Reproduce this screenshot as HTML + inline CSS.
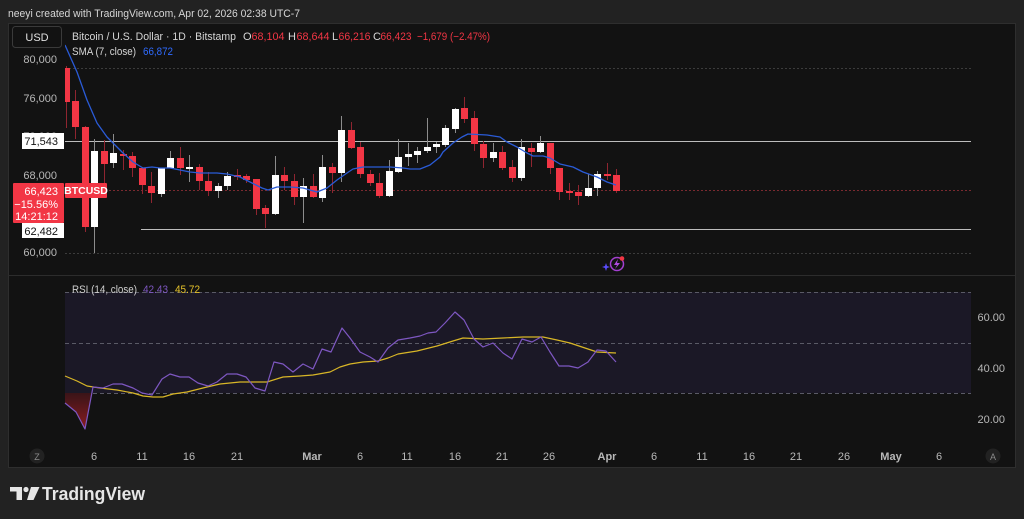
<!DOCTYPE html>
<html><head><meta charset="utf-8"><style>
html,body{margin:0;padding:0;background:#222222;width:1024px;height:519px;overflow:hidden;}
svg{display:block;font-family:"Liberation Sans",Arial,sans-serif;}
</style></head><body>
<svg width="1024" height="519" viewBox="0 0 1024 519" xmlns="http://www.w3.org/2000/svg">
<defs>
<clipPath id="pane"><rect x="65" y="24" width="906" height="251"/></clipPath>
<linearGradient id="rf" x1="0" y1="0" x2="0" y2="1"><stop offset="0" stop-color="#3a1418"/><stop offset="1" stop-color="#8a1c20"/></linearGradient>
</defs>
<rect x="0" y="0" width="1024" height="519" fill="#222222"/>
<text x="8" y="17" font-size="11" fill="#d6d6d6" textLength="292" lengthAdjust="spacingAndGlyphs">neeyi created with TradingView.com, Apr 02, 2026 02:38 UTC-7</text>
<rect x="8.5" y="23.5" width="1007" height="444" fill="#121212" stroke="#2e2e2e"/>
<line x1="8" y1="275.5" x2="1015" y2="275.5" stroke="#2c2c2c"/>

<!-- dotted grid -->
<line x1="65" y1="68.5" x2="971" y2="68.5" stroke="#3c3c3c" stroke-dasharray="2,2"/>
<line x1="65" y1="253.5" x2="971" y2="253.5" stroke="#3c3c3c" stroke-dasharray="2,2"/>
<!-- price lines -->
<line x1="65" y1="141.5" x2="971" y2="141.5" stroke="#bdbdbd"/>
<line x1="141" y1="229.5" x2="971" y2="229.5" stroke="#bdbdbd"/>
<line x1="65" y1="190.5" x2="971" y2="190.5" stroke="#7a2a30" stroke-dasharray="2,2"/>

<!-- candles -->
<g clip-path="url(#pane)" shape-rendering="crispEdges">
<g stroke-width="1">
<path stroke="#8f2530" d="M66.5 66V128M75.5 90V139M85.5 126V232M104.5 140V183M123.5 150V170M132.5 152V177M142.5 168V194M151.5 172V203M180.5 147V175M199.5 164V190M208.5 172V196M237.5 169V180M246.5 174V183M256.5 179V215M265.5 205V228M284.5 167V190M294.5 174V205M313.5 174V198M332.5 163V193M351.5 122V149M360.5 142V178M370.5 170V186M379.5 173V198M464.5 97V123M474.5 111V151M483.5 141V168M502.5 146V170M512.5 160V182M531.5 143V167M550.5 143V174M559.5 168V200M569.5 183V200M578.5 185V205M607.5 163V180M616.5 169V193"/>
<path stroke="#8c8c8c" d="M94.5 139V253M113.5 134V168M161.5 168V197M170.5 151V168M189.5 155V182M218.5 183V198M227.5 172V190M275.5 156V215M303.5 178V223M322.5 155V202M341.5 116V182M389.5 160V197M398.5 139V173M408.5 143V166M417.5 147V163M427.5 118V153M436.5 142V153M445.5 125V147M455.5 108V133M493.5 143V162M521.5 139V181M540.5 136V153M588.5 174V197M597.5 171V196"/>
</g>
<g fill="#f23645">
<rect x="63" y="68" width="7" height="34"/>
<rect x="72" y="101" width="7" height="26"/>
<rect x="82" y="127" width="7" height="100"/>
<rect x="101" y="151" width="7" height="13"/>
<rect x="120" y="154" width="7" height="2"/>
<rect x="129" y="156" width="7" height="12"/>
<rect x="139" y="168" width="7" height="17"/>
<rect x="148" y="186" width="7" height="7"/>
<rect x="177" y="158" width="7" height="10"/>
<rect x="196" y="167" width="7" height="14"/>
<rect x="205" y="181" width="7" height="10"/>
<rect x="234" y="175" width="7" height="2"/>
<rect x="243" y="176" width="7" height="4"/>
<rect x="253" y="179" width="7" height="30"/>
<rect x="262" y="208" width="7" height="6"/>
<rect x="281" y="175" width="7" height="6"/>
<rect x="291" y="181" width="7" height="16"/>
<rect x="310" y="186" width="7" height="11"/>
<rect x="329" y="167" width="7" height="6"/>
<rect x="348" y="130" width="7" height="18"/>
<rect x="357" y="147" width="7" height="27"/>
<rect x="367" y="174" width="7" height="9"/>
<rect x="376" y="183" width="7" height="13"/>
<rect x="461" y="108" width="7" height="11"/>
<rect x="471" y="118" width="7" height="26"/>
<rect x="480" y="144" width="7" height="14"/>
<rect x="499" y="152" width="7" height="16"/>
<rect x="509" y="167" width="7" height="11"/>
<rect x="528" y="148" width="7" height="4"/>
<rect x="547" y="143" width="7" height="25"/>
<rect x="556" y="168" width="7" height="24"/>
<rect x="566" y="191" width="7" height="2"/>
<rect x="575" y="192" width="7" height="4"/>
<rect x="604" y="174" width="7" height="2"/>
<rect x="613" y="175" width="7" height="16"/>
</g>
<g fill="#ffffff">
<rect x="91" y="151" width="7" height="76"/>
<rect x="110" y="153" width="7" height="10"/>
<rect x="158" y="168" width="7" height="26"/>
<rect x="167" y="158" width="7" height="10"/>
<rect x="186" y="167" width="7" height="2"/>
<rect x="215" y="186" width="7" height="5"/>
<rect x="224" y="176" width="7" height="10"/>
<rect x="272" y="175" width="7" height="39"/>
<rect x="300" y="186" width="7" height="11"/>
<rect x="319" y="167" width="7" height="31"/>
<rect x="338" y="130" width="7" height="43"/>
<rect x="386" y="171" width="7" height="25"/>
<rect x="395" y="157" width="7" height="15"/>
<rect x="405" y="154" width="7" height="3"/>
<rect x="414" y="151" width="7" height="4"/>
<rect x="424" y="147" width="7" height="4"/>
<rect x="433" y="144" width="7" height="3"/>
<rect x="442" y="128" width="7" height="17"/>
<rect x="452" y="109" width="7" height="20"/>
<rect x="490" y="152" width="7" height="6"/>
<rect x="518" y="147" width="7" height="31"/>
<rect x="537" y="143" width="7" height="9"/>
<rect x="585" y="188" width="7" height="8"/>
<rect x="594" y="174" width="7" height="14"/>
</g>
</g>
<!-- SMA -->
<polyline clip-path="url(#pane)" fill="none" stroke="#2a5bd7" stroke-width="1.3" stroke-linejoin="round" points="65,45 77,72 87,100 97,123 107,137 115,145 123,153 133,162 143,168 152,167 160,168 170,168 180,170 190,172 200,173 217,173 227,174 240,177 250,182 262,188 268,190 277,187 290,187 303,188 317,192 327,188 337,180 347,173 353,169 363,167 390,167 403,168 410,169 420,169 430,165 440,157 443,152 453,143 462,137 468,134 487,135 500,137 507,142 517,147 527,153 533,156 543,156 550,158 560,164 573,167 583,172 597,177 607,182 616,185"/>

<!-- header -->
<rect x="12.5" y="26.5" width="49" height="21" rx="3" fill="#121212" stroke="#3a3a3a"/>
<text x="37" y="41" font-size="11" fill="#e0e0e0" text-anchor="middle">USD</text>
<text x="72" y="40" font-size="11" fill="#d6d6d6" textLength="164" lengthAdjust="spacingAndGlyphs">Bitcoin / U.S. Dollar · 1D · Bitstamp</text>
<text x="243" y="40" font-size="11" fill="#d6d6d6">O</text><text x="251.5" y="40" font-size="11" fill="#f23645" textLength="33" lengthAdjust="spacingAndGlyphs">68,104</text>
<text x="288" y="40" font-size="11" fill="#d6d6d6">H</text><text x="296.5" y="40" font-size="11" fill="#f23645" textLength="33" lengthAdjust="spacingAndGlyphs">68,644</text>
<text x="332" y="40" font-size="11" fill="#d6d6d6">L</text><text x="338.5" y="40" font-size="11" fill="#f23645" textLength="32" lengthAdjust="spacingAndGlyphs">66,216</text>
<text x="373" y="40" font-size="11" fill="#d6d6d6">C</text><text x="380.5" y="40" font-size="11" fill="#f23645" textLength="31" lengthAdjust="spacingAndGlyphs">66,423</text>
<text x="417" y="40" font-size="11" fill="#f23645" textLength="73" lengthAdjust="spacingAndGlyphs">−1,679 (−2.47%)</text>
<text x="72" y="55" font-size="11" fill="#d6d6d6" textLength="64" lengthAdjust="spacingAndGlyphs">SMA (7, close)</text>
<text x="143" y="55" font-size="11" fill="#2f6bff" textLength="30" lengthAdjust="spacingAndGlyphs">66,872</text>

<!-- left axis -->
<g font-size="11" fill="#b8b8b8" text-anchor="end">
<text x="57" y="63">80,000</text>
<text x="57" y="102">76,000</text>
<text x="57" y="140">72,000</text>
<text x="57" y="179">68,000</text>
<text x="57" y="256">60,000</text>
</g>
<rect x="22" y="133" width="42" height="16" fill="#ffffff"/>
<text x="58" y="145" font-size="11" fill="#111" text-anchor="end">71,543</text>
<rect x="13" y="183" width="51" height="40" rx="1" fill="#f23645"/>
<g font-size="11" fill="#ffffff" text-anchor="end">
<text x="58" y="195">66,423</text>
<text x="58" y="208">−15.56%</text>
<text x="58" y="220">14:21:12</text>
</g>
<rect x="65" y="183" width="42" height="15" rx="1" fill="#f23645"/>
<text x="86" y="194" font-size="10.5" fill="#ffffff" text-anchor="middle" font-weight="bold">BTCUSD</text>
<rect x="22" y="223" width="42" height="15" fill="#ffffff"/>
<text x="58" y="235" font-size="11" fill="#111" text-anchor="end">62,482</text>

<!-- lightning icon -->
<g>
<circle cx="617" cy="264" r="6.5" fill="none" stroke="#a33fd0" stroke-width="1.5"/>
<path d="M618 259 L614 265 L617 265 L615 269 L620 263 L617 263 Z" fill="#b04ae0"/>
<circle cx="622" cy="258.5" r="2.3" fill="#f23645"/>
<path d="M606 263 L607 266 L610 267 L607 268 L606 271 L605 268 L602 267 L605 266 Z" fill="#5a4cff"/>
</g>

<!-- RSI -->
<rect x="65" y="292" width="906" height="101" fill="#1b1826"/>
<g stroke="#5a5a66" stroke-dasharray="4,3">
<line x1="65" y1="292.5" x2="971" y2="292.5"/>
<line x1="65" y1="343.5" x2="971" y2="343.5"/>
<line x1="65" y1="393.5" x2="971" y2="393.5"/>
</g>
<polygon points="65,393 65,403 76,412 85,429 91.9,393" fill="url(#rf)"/>
<polyline fill="none" stroke="#d8b627" stroke-width="1.2" stroke-linejoin="round" points="65,376 77,381 87,386 100,388 117,390 133,393 143,396 153,397 163,397 173,394 187,392 207,387 220,384 240,382 267,382 283,377 300,376 313,375 330,372 340,367 350,364 363,362 378,361 388,358 398,354 417,351 437,346 453,341 463,338 483,339 503,338 523,337 543,337 557,340 570,343 588,349 597,352 616,353"/>
<polyline fill="none" stroke="#7e57c2" stroke-width="1.2" stroke-linejoin="round" points="65,403 76,412 85,429 93,387 103,388 113,384 122,384 133,388 142,393 152,395 162,379 170,374 180,377 189,377 198,383 208,386 217,382 227,374 237,374 246,377 255,388 265,391 274,362 283,364 293,372 303,364 313,369 322,349 331,352 342,328 350,338 360,352 370,357 378,362 388,348 398,340 410,338 420,336 428,333 436,332 445,323 455,312 464,320 474,339 483,347 493,343 503,353 512,359 522,339 532,342 541,337 550,352 559,366 569,366 578,368 588,362 597,350 606,351 616,362"/>
<text x="72" y="293" font-size="11" fill="#d0d0d0" textLength="65" lengthAdjust="spacingAndGlyphs">RSI (14, close)</text>
<text x="143" y="293" font-size="11" fill="#7e57c2" textLength="25" lengthAdjust="spacingAndGlyphs">42.43</text>
<text x="175" y="293" font-size="11" fill="#e5c22b" textLength="25" lengthAdjust="spacingAndGlyphs">45.72</text>
<g font-size="11" fill="#b8b8b8" text-anchor="end">
<text x="1005" y="321">60.00</text>
<text x="1005" y="372">40.00</text>
<text x="1005" y="423">20.00</text>
</g>

<!-- time axis -->
<circle cx="37" cy="456" r="7.5" fill="#222222"/>
<text x="37" y="460" font-size="9" fill="#8a8a8a" text-anchor="middle">Z</text>
<circle cx="993" cy="456" r="7.5" fill="#222222"/>
<text x="993" y="460" font-size="9" fill="#8a8a8a" text-anchor="middle">A</text>
<g font-size="11" fill="#b8b8b8" text-anchor="middle">
<text x="94" y="460">6</text>
<text x="142" y="460">11</text>
<text x="189" y="460">16</text>
<text x="237" y="460">21</text>
<text x="312" y="460" font-weight="bold">Mar</text>
<text x="360" y="460">6</text>
<text x="407" y="460">11</text>
<text x="455" y="460">16</text>
<text x="502" y="460">21</text>
<text x="549" y="460">26</text>
<text x="607" y="460" font-weight="bold">Apr</text>
<text x="654" y="460">6</text>
<text x="702" y="460">11</text>
<text x="749" y="460">16</text>
<text x="796" y="460">21</text>
<text x="844" y="460">26</text>
<text x="891" y="460" font-weight="bold">May</text>
<text x="939" y="460">6</text>
</g>

<!-- logo -->
<g fill="#e6e6e6">
<path d="M10 487 H22 V500 H16.5 V491.5 H10 Z"/>
<circle cx="26" cy="489.5" r="2.6"/>
<path d="M31 487 H39.5 L33.5 500 H27 Z"/>
</g>
<text x="42" y="500" font-size="18.5" font-weight="bold" fill="#e6e6e6" textLength="103" lengthAdjust="spacingAndGlyphs">TradingView</text>
</svg>
</body></html>
